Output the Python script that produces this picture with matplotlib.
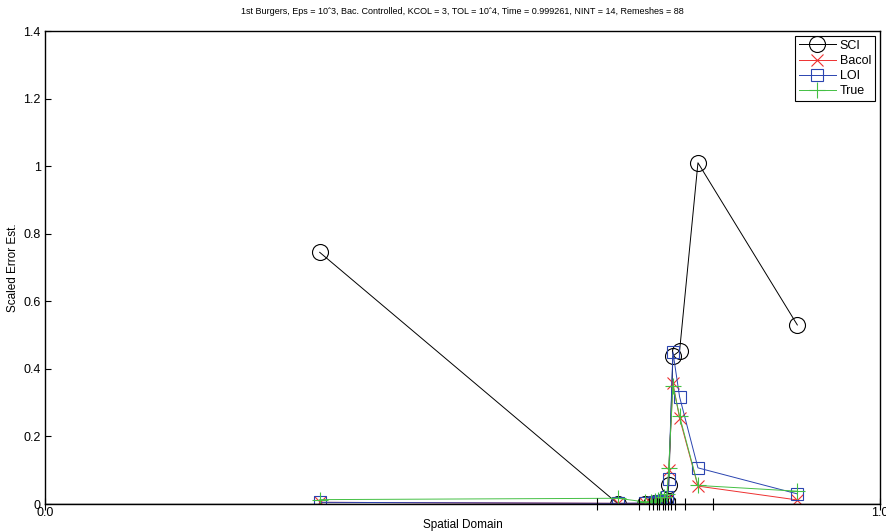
import matplotlib.pyplot as plt

plt.rcParams['font.family'] = ['Liberation Sans', 'DejaVu Sans']

# x position of each subinterval estimate
x_pts = [0.329, 0.686, 0.719, 0.726, 0.731, 0.734, 0.737, 0.741, 0.745,
         0.747, 0.752, 0.760, 0.782, 0.901]

sci = [0.745, 0.001, 0.001, 0.001, 0.002, 0.002, 0.003, 0.004, 0.006,
       0.055, 0.438, 0.453, 1.010, 0.530]
bacol = [0.005, 0.002, 0.002, 0.003, 0.004, 0.005, 0.006, 0.008, 0.012,
         0.100, 0.358, 0.254, 0.053, 0.012]
loi = [0.005, 0.002, 0.003, 0.004, 0.005, 0.006, 0.008, 0.012, 0.020,
       0.074, 0.450, 0.317, 0.107, 0.030]
true_err = [0.013, 0.017, 0.006, 0.007, 0.009, 0.011, 0.015, 0.020, 0.030,
            0.107, 0.350, 0.260, 0.055, 0.038]

# mesh points (NINT = 14)
mesh = [0.0, 0.661, 0.711, 0.723, 0.728, 0.733, 0.735, 0.740, 0.743,
        0.746, 0.750, 0.754, 0.766, 0.800, 1.0]

fig = plt.figure(figsize=(8.87, 5.32), dpi=100)
ax = fig.add_axes([0.0507, 0.0526, 0.9414, 0.8891])

ax.plot(x_pts, sci, '-o', color='black', lw=0.7, ms=11.5, mfc='none', mew=0.8, label='SCI')
ax.plot(x_pts, bacol, '-x', color='#ee3030', lw=0.7, ms=8.5, mew=0.8, label='Bacol')
ax.plot(x_pts, loi, '-s', color='#2a44b0', lw=0.7, ms=8.5, mfc='none', mew=0.8, label='LOI')
ax.plot(x_pts, true_err, '-+', color='#44c044', lw=0.7, ms=11, mew=0.8, label='True')

# mesh marks on the x axis
ax.vlines(mesh, -0.018, 0.018, color='black', lw=0.8, clip_on=False)
ax.axhline(0, color='black', lw=1.0)

ax.set_xlim(0, 1)
ax.set_ylim(0, 1.4)
ax.set_xticks([0, 1])
ax.set_xticklabels(['0.0', '1.0'])
ax.set_yticks([0, 0.2, 0.4, 0.6, 0.8, 1.0, 1.2, 1.4])
ax.set_yticklabels(['0', '0.2', '0.4', '0.6', '0.8', '1', '1.2', '1.4'])
ax.tick_params(direction='in', length=4, labelsize=9, width=0.8)
ax.tick_params(axis='y', pad=3)
ax.tick_params(axis='x', length=0, pad=2)
for s in ax.spines.values():
    s.set_linewidth(1.0)

ax.set_xlabel('Spatial Domain', fontsize=8.5, labelpad=0)
ax.set_ylabel('Scaled Error Est.', fontsize=8.5, labelpad=3)
ax.set_title('1st Burgers, Eps = 10ˆ3, Bac. Controlled, KCOL = 3, TOL = 10ˆ4, '
             'Time = 0.999261, NINT = 14, Remeshes = 88', fontsize=6.5, pad=12)

leg = ax.legend(loc='upper right', fontsize=9, handlelength=3.0, borderpad=0.3,
                labelspacing=0.25, handletextpad=0.3, fancybox=False,
                framealpha=1, edgecolor='black', borderaxespad=0.4)
leg.get_frame().set_linewidth(0.8)

fig.savefig('out.png', dpi=100)
